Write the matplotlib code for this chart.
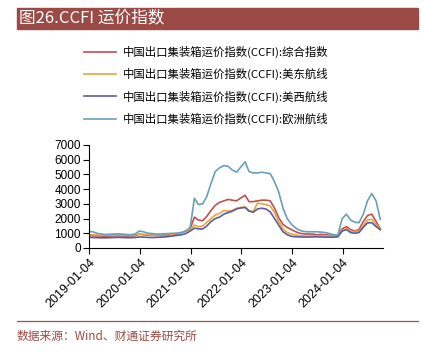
import matplotlib
matplotlib.use('Agg')
import matplotlib.pyplot as plt
import pandas as pd

plt.rcParams['font.family'] = ['Noto Sans CJK SC', 'DejaVu Sans']

dates = pd.date_range('2019-01-01', '2024-10-01', freq='MS')

composite = [840, 830, 820, 810, 800, 810, 820, 830, 820, 810, 820, 830,
             940, 900, 870, 860, 850, 840, 850, 880, 920, 960, 1050, 1150,
             1300, 2100, 1900, 1850, 2150, 2550, 2900, 3100, 3200, 3300, 3250, 3200,
             3400, 3580, 3150, 3150, 3200, 3250, 3250, 3200, 2700, 2050, 1600, 1400,
             1250, 1100, 1000, 960, 950, 940, 900, 920, 900, 870, 850, 860,
             1300, 1450, 1250, 1150, 1250, 1800, 2200, 2300, 1800, 1300]
us_east = [900, 890, 880, 870, 860, 870, 880, 890, 880, 870, 870, 880,
           950, 920, 900, 880, 880, 890, 900, 920, 950, 1000, 1050, 1150,
           1250, 1550, 1450, 1500, 1750, 2000, 2250, 2350, 2550, 2500, 2550, 2700,
           2750, 2800, 2550, 2470, 3050, 3000, 2950, 2850, 2400, 1800, 1300, 1050,
           950, 880, 830, 820, 810, 820, 830, 830, 820, 810, 800, 830,
           1200, 1300, 1150, 1100, 1150, 1500, 1900, 1950, 1600, 1250]
us_west = [720, 710, 700, 690, 690, 700, 710, 720, 710, 700, 700, 710,
           750, 740, 720, 710, 720, 730, 750, 780, 820, 860, 900, 980,
           1150, 1350, 1300, 1290, 1500, 1800, 2000, 2100, 2300, 2400, 2500, 2650,
           2720, 2750, 2500, 2430, 2650, 2700, 2650, 2450, 2000, 1550, 1100, 900,
           790, 760, 750, 740, 740, 750, 760, 750, 740, 740, 730, 760,
           1150, 1250, 1050, 1000, 1050, 1400, 1700, 1720, 1450, 1250]
europe = [1120, 1100, 1000, 950, 920, 930, 950, 960, 940, 920, 900, 950,
          1150, 1100, 1000, 980, 960, 950, 970, 980, 1000, 1000, 1050, 1150,
          1400, 3380, 2950, 3000, 3500, 4400, 5200, 5450, 5600, 5550, 5300, 5150,
          5500, 5850, 5200, 5100, 5100, 5150, 5100, 5050, 4500, 3800, 2700, 2000,
          1600, 1350, 1200, 1120, 1100, 1100, 1100, 1080, 1050, 980, 900, 880,
          2000, 2300, 1900, 1750, 1720, 2300, 3200, 3700, 3200, 1950]

labels = ['中国出口集装箱运价指数(CCFI):综合指数',
          '中国出口集装箱运价指数(CCFI):美东航线',
          '中国出口集装箱运价指数(CCFI):美西航线',
          '中国出口集装箱运价指数(CCFI):欧洲航线']
colors = ['#C0504D', '#EAA43A', '#5B5DA3', '#6A9FB8']
tick_dates = ['2019-01-04', '2020-01-04', '2021-01-04', '2022-01-04',
              '2023-01-04', '2024-01-04']

fig = plt.figure(figsize=(4.24, 3.53), dpi=100)

# title bar
fig.patches.append(plt.Rectangle((0.04, 0.918), 0.946, 0.059, transform=fig.transFigure,
                                 color='#9C4A45', zorder=0))
fig.text(0.045, 0.946, '图26.CCFI 运价指数', color='white', fontsize=12,
         va='center', ha='left')

ax = fig.add_axes([0.21, 0.2975, 0.693, 0.2918])
for series, c, lab in zip([composite, us_east, us_west, europe], colors, labels):
    ax.plot(dates, series, color=c, lw=1.2, label=lab)

ax.set_ylim(0, 7000)
ax.set_yticks(range(0, 7001, 1000))
ax.set_xlim(pd.Timestamp('2019-01-04'), pd.Timestamp('2024-10-20'))
ax.set_xticks([pd.Timestamp(d) for d in tick_dates])
ax.set_xticklabels(tick_dates, rotation=45, ha='right', rotation_mode='anchor')
ax.tick_params(axis='y', labelsize=8.5, length=4, width=0.8, pad=2)
ax.tick_params(axis='x', labelsize=9, length=4, width=0.8, pad=2)
for lab in ax.get_xticklabels() + ax.get_yticklabels():
    lab.set_fontfamily(['Liberation Sans', 'DejaVu Sans'])
ax.spines['top'].set_visible(False)
ax.spines['right'].set_visible(False)

fig.legend(loc='upper left', bbox_to_anchor=(0.175, 0.9), frameon=False,
           fontsize=8.2, handlelength=2.8, handletextpad=0.6, labelspacing=0.9)

# footer
fig.add_artist(plt.Line2D([0.04, 0.986], [0.091, 0.091], transform=fig.transFigure,
                          color='#A0524C', lw=0.9))
fig.text(0.04, 0.048, '数据来源：Wind、财通证券研究所', color='#9C4A45', fontsize=8.5,
         va='center', ha='left')

fig.savefig('out.png', dpi=100)
